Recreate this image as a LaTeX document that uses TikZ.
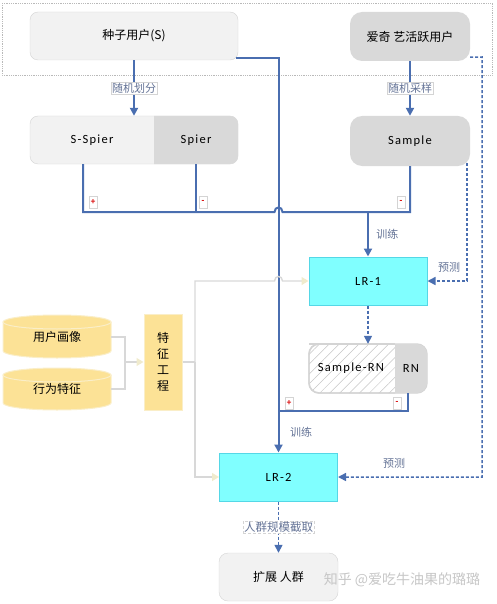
\documentclass[tikz,border=0pt]{standalone}
\usepackage{fontspec}
\setmainfont{Carlito}[LetterSpace=10]
\newfontfamily\cjk{Noto Sans CJK SC}
\usetikzlibrary{arrows.meta,calc,patterns.meta}

\definecolor{lineblue}{RGB}{74,110,176}
\definecolor{labelgray}{RGB}{100,115,150}
\definecolor{boxlight}{RGB}{242,242,242}
\definecolor{boxdark}{RGB}{217,217,217}
\definecolor{boxedge}{RGB}{212,212,212}
\definecolor{lrfill}{RGB}{128,255,255}
\definecolor{lredge}{RGB}{85,215,230}
\definecolor{gold}{RGB}{252,226,150}
\definecolor{goldedge}{RGB}{250,238,200}
\definecolor{feedgray}{RGB}{216,216,216}
\definecolor{feedtip}{RGB}{240,235,205}

\tikzset{
  cjktext/.style={font=\cjk\fontsize{12}{14}\selectfont},
  lattext/.style={font=\fontsize{12.5}{14}\selectfont},
  lightbox/.style={fill=boxlight, draw=boxedge, rounded corners=8pt, minimum height=48pt, cjktext},
  darkbox/.style={fill=boxdark, rounded corners=12pt, minimum width=120pt, minimum height=49pt},
  lrbox/.style={fill=lrfill, draw=lredge, line width=1pt, minimum width=118pt, minimum height=48pt, lattext},
  tag/.style={fill=white, draw=boxedge, line width=0.4pt, inner sep=1pt, text=labelgray, font=\cjk\fontsize{11}{12}\selectfont},
  note/.style={text=labelgray, font=\cjk\fontsize{11}{12}\selectfont},
  sign/.style={fill=white, draw=boxedge, line width=0.4pt, inner sep=0.5pt, minimum width=8pt, minimum height=12pt, text=red!85!black, font=\bfseries\fontsize{9}{9}\selectfont},
  line/.style={draw=lineblue, line width=2pt},
  flow/.style={line, -{Triangle[length=8pt,width=8pt]}},
  pred/.style={draw=lineblue, line width=1.5pt, dash pattern=on 3pt off 2pt, -{Triangle[length=8pt,width=8pt]}},
  feedplain/.style={draw=feedgray, line width=1.4pt},
  feed/.style={feedplain, -{Triangle[length=7pt,width=8pt,color=feedtip]}},
  gold cyl/.style={fill=gold, draw=goldedge, line width=1pt}
}

\begin{document}
\begin{tikzpicture}[x=1pt,y=-1pt]
\useasboundingbox (0,0) rectangle (496,604);

% top group
\draw[gray!55, densely dotted, line width=0.8pt] (2,3) rectangle (492,75);
\node[lightbox, minimum width=208pt] (seed) at (134,36) {种子用户(S)};
\node[darkbox, cjktext] (iqiyi) at (410,36.5) {爱奇 艺活跃用户};

% split of the seeds
\filldraw[fill=boxlight, draw=boxedge, rounded corners=8pt] (30,116) rectangle (238,164);
\begin{scope}
\clip (154,110) rectangle (245,170);
\fill[boxdark, rounded corners=8pt] (30,116) rectangle (238,164);
\end{scope}
\node[lattext, minimum width=124pt, minimum height=48pt] (sspier) at (92,140) {S-Spier};
\node[lattext, minimum width=84pt, minimum height=48pt] (spier) at (196,140) {Spier};
\node[darkbox, lattext, minimum height=50pt] (sample) at (410,141) {Sample};

\draw[flow] (seed.south) -- node[tag] {随机划分} (seed.south |- sspier.north);
\draw[flow] (iqiyi.south) -- node[tag] {随机采样} (sample.north);

% training set of LR-1
\coordinate (jL) at (83,212);
\coordinate (jR) at (410,212);
\coordinate (jT) at (368,212);
\draw[line] (sspier.south -| jL) -- (jL) -- (274.5,212) .. controls (274.5,206) and (282.5,206) .. (282.5,212) -- (jR) -- (sample.south);
\draw[line] (spier.south) -- (spier.south |- jL);
\node[sign] (plus1) at (93,202) {+};
\node[sign] (minus1) at (203,202) {-};
\node[sign] (minus2) at (401,202) {-};

\node[lrbox] (lr1) at (368,281) {LR-1};
\draw[flow] (jT) -- node[note, right=4pt] {训练} (lr1.north);

% Sample-RN
\filldraw[fill=white, draw=boxedge, line width=1.4pt, rounded corners=10pt] (309,344) rectangle (427,393);
\begin{scope}
\clip (309,344) rectangle (395,393);
\fill[pattern={Lines[angle=45,distance=7pt,line width=0.5pt]}, pattern color=gray!45, rounded corners=10pt] (309,344) rectangle (427,393);
\end{scope}
\begin{scope}
\clip (395,340) rectangle (432,398);
\fill[boxdark, rounded corners=10pt] (309,344) rectangle (427,393);
\end{scope}
\draw[boxedge, line width=1.4pt, rounded corners=10pt] (309,344) -- (395,344);
\draw[boxedge, line width=1.4pt, rounded corners=10pt] (395,393) -- (309,393) -- (309,344) -- (330,344);
\node[minimum width=118pt, minimum height=49pt] (samplern) at (368,368.5) {};
\node[lattext] (srn) at (351,368.5) {Sample-RN};
\node[lattext] (rn) at (411,368.5) {RN};

\draw[pred] (lr1.south) -- (samplern.north);

% LR-2
\node[lrbox] (lr2) at (278.5,477) {LR-2};
\draw[flow] ([xshift=-2pt,yshift=2pt]seed.south east) -| (lr2.north);
\coordinate (kR) at (408,410.5);
\draw[line] (samplern.south -| kR) -- (kR) -- (kR -| lr2.north);
\node[sign] (plus2) at (289,403) {+};
\node[sign] (minus3) at (397,403) {-};
\node[note] (train2) at (301,432) {训练};

% predictions
\draw[pred] ([xshift=-3pt,yshift=3pt]sample.south east) |- (lr1.east);
\node[note] (pred1) at (449,267) {预测};
\coordinate (pr) at (482,57);
\draw[pred] ([yshift=4pt]iqiyi.south east) -- (pr) |- (lr2.east);
\node[note] (pred2) at (394,463) {预测};

% features
\fill[gold cyl] (3,322) -- (3,351) arc[start angle=180, end angle=0, x radius=54, y radius=7] -- (111,322) -- cycle;
\filldraw[gold cyl] (57,322) ellipse (54 and 7);
\node[cjktext, minimum width=108pt] (portrait) at (57,337) {用户画像};
\fill[gold cyl] (3,375) -- (3,403) arc[start angle=180, end angle=0, x radius=54, y radius=7] -- (111,375) -- cycle;
\filldraw[gold cyl] (57,375) ellipse (54 and 7);
\node[cjktext, minimum width=108pt] (behavior) at (57,389) {行为特征};

\node[fill=gold, draw=goldedge, line width=1pt, minimum width=38pt, minimum height=96pt, align=center, font=\cjk\fontsize{12}{16}\selectfont] (feat) at (163,362) {特\\征\\工\\程};
\coordinate (fj) at (125,362);
\draw[feedplain] (portrait.east) -| (fj) |- (behavior.east);
\draw[feed] (fj) -- (feat.west);
\coordinate (fv) at (195,362);
\draw[feedplain] (feat.east) -- (fv);
\draw[feed] (fv) |- (lr2.west);
\draw[feed] (fv) -- (fv |- lr1.west) -- (274.5,281) .. controls (274.5,275) and (282.5,275) .. (282.5,281) -- (lr1.west);

% output
\node[lightbox, minimum width=119pt, rounded corners=9pt] (expand) at (278.5,577) {扩展 人群};
\draw[pred] (lr2.south) -- node[tag, font=\cjk\fontsize{11.5}{12}\selectfont] {人群规模截取} (expand.north);

\node[text=gray!45, font=\cjk\fontsize{14}{16}\selectfont] (mark) at (402,580) {知乎 @爱吃牛油果的璐璐};
\end{tikzpicture}
\end{document}
